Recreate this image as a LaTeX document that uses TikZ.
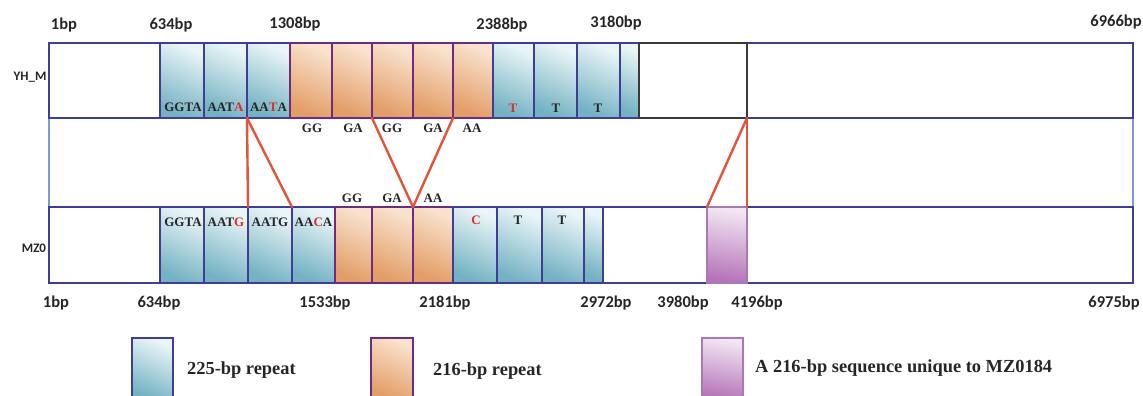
\documentclass[tikz,border=0pt]{standalone}
\usepackage{fontspec}
\setmainfont{Liberation Serif}
\newfontfamily\bpfont{Carlito}
\definecolor{navyb}{HTML}{3F3E96}
\definecolor{midside}{HTML}{7C9BD0}
\definecolor{orgborder}{HTML}{6E2C80}
\definecolor{purborder}{HTML}{A77AB5}
\definecolor{bluetop}{HTML}{EAF5F7}
\definecolor{bluebot}{HTML}{74B2C3}
\definecolor{orgtop}{HTML}{F9E2CE}
\definecolor{orgbot}{HTML}{E39D66}
\definecolor{purtop}{HTML}{F3E6F3}
\definecolor{purbot}{HTML}{B474B8}
\definecolor{redl}{HTML}{E2553A}
\definecolor{seqred}{HTML}{D8302A}
\definecolor{graybd}{HTML}{3A3A3A}
\newcommand\mkbox[6]{\node[#1, minimum width={#4-#3}, minimum height={#6-#5}] (#2) at ({(#3+#4)/2},{(#5+#6)/2}) {};}
\tikzset{
  base/.style={rectangle, inner sep=0pt, outer sep=0pt},
  rowbox/.style={base, draw=navyb, line width=1.5pt, fill=white},
  midbox/.style={base, draw=midside, line width=1.5pt, fill=white},
  bluebox/.style={base, draw=navyb, line width=1.4pt, top color=bluetop, bottom color=bluebot, shading angle=-25},
  orgbox/.style={base, draw=orgborder, line width=1.4pt, top color=orgtop, bottom color=orgbot, shading angle=-25},
  purbox/.style={base, draw=purborder, line width=1.4pt, top color=purtop, bottom color=purbot, shading angle=-10},
  emptybox/.style={base, draw=graybd, line width=1.5pt, fill=white},
  seq/.style={inner sep=0pt, font=\fontsize{13}{13}\selectfont\bfseries, text=black!85},
  bp/.style={inner sep=0pt, font=\bpfont\fontsize{16.5}{16.5}\selectfont\bfseries, text=black!85},
  rowlab/.style={inner sep=0pt, font=\bpfont\fontsize{13}{13}\selectfont\bfseries, text=black!85},
  legtext/.style={inner sep=0pt, anchor=west, font=\fontsize{18.4}{18.4}\selectfont\bfseries, text=black!85},
  redline/.style={draw=redl, line width=2.4pt, line cap=round}
}
\begin{document}
\begin{tikzpicture}[x=1pt, y=-1pt]
\useasboundingbox (0,0) rectangle (1143,396);
% rows
\mkbox{midbox}{mid}{49}{1133}{118}{207}
\mkbox{rowbox}{toprow}{49}{1133}{43}{118}
\mkbox{rowbox}{botrow}{49}{1133}{207}{283}
% top row boxes
\mkbox{bluebox}{t1}{160}{204}{43}{118}
\mkbox{bluebox}{t2}{204}{247}{43}{118}
\mkbox{bluebox}{t3}{247}{290}{43}{118}
\mkbox{orgbox}{t4}{290}{332}{43}{118}
\mkbox{orgbox}{t5}{332}{372}{43}{118}
\mkbox{orgbox}{t6}{372}{413}{43}{118}
\mkbox{orgbox}{t7}{413}{453}{43}{118}
\mkbox{orgbox}{t8}{453}{493}{43}{118}
\mkbox{bluebox}{t9}{493}{534}{43}{118}
\mkbox{bluebox}{t10}{534}{577}{43}{118}
\mkbox{bluebox}{t11}{577}{620}{43}{118}
\mkbox{bluebox}{t12}{620}{639}{43}{118}
\mkbox{emptybox}{tw}{639}{747}{43}{118}
% bottom row boxes
\mkbox{bluebox}{b1}{160}{204}{207}{283}
\mkbox{bluebox}{b2}{204}{248}{207}{283}
\mkbox{bluebox}{b3}{248}{292}{207}{283}
\mkbox{bluebox}{b4}{292}{335}{207}{283}
\mkbox{orgbox}{b5}{335}{372}{207}{283}
\mkbox{orgbox}{b6}{372}{413}{207}{283}
\mkbox{orgbox}{b7}{413}{453}{207}{283}
\mkbox{bluebox}{b8}{453}{497}{207}{283}
\mkbox{bluebox}{b9}{497}{542}{207}{283}
\mkbox{bluebox}{b10}{542}{584}{207}{283}
\mkbox{bluebox}{b11}{584}{603}{207}{283}
\mkbox{purbox}{pb}{707}{747}{207}{283}
% sequence labels in top row
\node[seq] (s1) at (183,107) {GGTA};
\node[seq] (s2) at (225.5,107) {AAT\textcolor{seqred}{A}};
\node[seq] (s3) at (268.5,107) {AA\textcolor{seqred}{T}A};
\node[seq, text=seqred] (s4) at (513,108) {T};
\node[seq] (s5) at (556,108) {T};
\node[seq] (s6) at (598,108) {T};
% sequence labels in bottom row
\node[seq] (u1) at (183,222) {GGTA};
\node[seq] (u2) at (226,222) {AAT\textcolor{seqred}{G}};
\node[seq] (u3) at (270,222) {AATG};
\node[seq] (u4) at (313.5,222) {AA\textcolor{seqred}{C}A};
\node[seq, text=seqred] (u5) at (476,220) {C};
\node[seq] (u6) at (518,220) {T};
\node[seq] (u7) at (562,220) {T};
% labels between rows
\node[seq] (g1) at (312,128) {GG};
\node[seq] (g2) at (353,128) {GA};
\node[seq] (g3) at (392,128) {GG};
\node[seq] (g4) at (433,128) {GA};
\node[seq] (g5) at (472,128) {AA};
\node[seq] (h1) at (352,198) {GG};
\node[seq] (h2) at (392,198) {GA};
\node[seq] (h3) at (433,198) {AA};
% red connectors
\draw[redline] (t2.south east) -- (b3.north west);
\draw[redline] (t2.south east) -- (b4.north west);
\draw[redline] (t5.south east) -- (b6.north east);
\draw[redline] (t7.south east) -- (b6.north east);
\draw[redline] (tw.south east) -- (pb.north west);
\draw[redline] (tw.south east) -- (pb.north east);
% position labels
\node[bp] (p1) at (64,25) {1bp};
\node[bp] (p2) at (171,25) {634bp};
\node[bp] (p3) at (295,24) {1308bp};
\node[bp] (p4) at (502,25) {2388bp};
\node[bp] (p5) at (616,23) {3180bp};
\node[bp] (p6) at (1116,22) {6966bp};
\node[bp] (q1) at (56,303) {1bp};
\node[bp] (q2) at (159,303) {634bp};
\node[bp] (q3) at (325,303) {1533bp};
\node[bp] (q4) at (445,303) {2181bp};
\node[bp] (q5) at (606,303) {2972bp};
\node[bp] (q6) at (683,303) {3980bp};
\node[bp] (q7) at (757,303) {4196bp};
\node[bp] (q8) at (1114,303) {6975bp};
% row names
\node[rowlab] (r1) at (30,77) {YH\_M};
\node[rowlab] (r2) at (34,248) {MZ0};
% legend
\mkbox{bluebox}{lg1}{132}{173}{338}{400}
\node[legtext] (lt1) at (187,370) {225-bp repeat};
\mkbox{orgbox}{lg2}{371}{413}{338}{400}
\node[legtext] (lt2) at (433,371) {216-bp repeat};
\mkbox{purbox}{lg3}{702}{743}{338}{400}
\node[legtext] (lt3) at (755,368) {A 216-bp sequence unique to MZ0184};
\end{tikzpicture}
\end{document}
